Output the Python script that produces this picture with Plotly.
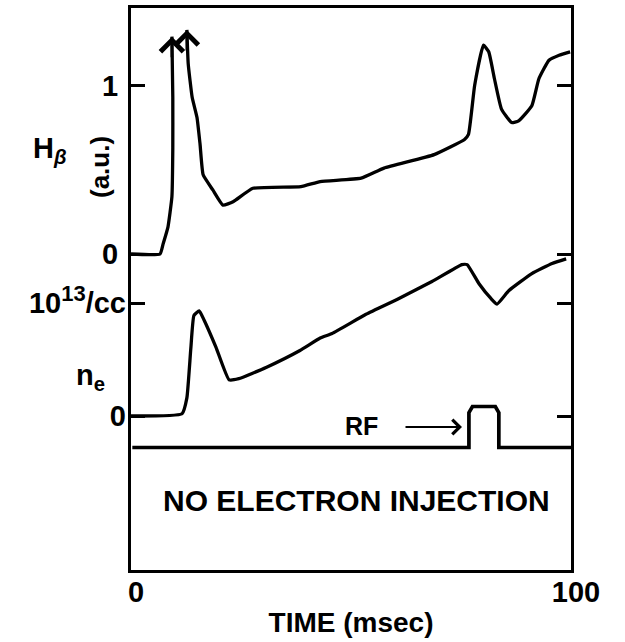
import plotly.graph_objects as go

# ---------------- data ----------------
# H-beta (a.u.) : rise to off-scale peak (arrow), gap, decay from second off-scale peak
hb_time = [0, 6.6, 7.3, 8.4, 9.3, 9.5, 9.5, 9.3, None, 12.7, 13.0, 13.9, 15.0, 15.7, 16.4,
           18.6, 20.9, 23.2, 27.7, 38.6, 43.0, 52.3, 57.5, 68.9, 75.8, 76.7, 78.1, 80.1,
           81.3, 82.6, 84.2, 86.5, 88.1, 91.1, 92.7, 95.0, 97.3, 99.8]
hb_val = [0, 0.0, 0.06, 0.16, 0.34, 0.63, 0.93, 1.29, None, 1.33, 1.13, 0.93, 0.81, 0.65, 0.47,
          0.38, 0.29, 0.31, 0.39, 0.40, 0.43, 0.45, 0.51, 0.59, 0.68, 0.71, 1.00, 1.24,
          1.20, 1.04, 0.86, 0.78, 0.79, 0.88, 1.04, 1.15, 1.18, 1.20]
hb_arrow_time = [9.3, 12.7]
hb_arrow_val = [1.29, 1.33]

# electron density n_e (10^13 /cc)
ne_time = [0, 11.6, 12.7, 13.6, 14.3, 15.5, 16.6, 19.3, 22.3, 24.5, 30.7, 38.4, 43.0, 45.7,
           53.4, 60.9, 68.4, 75.2, 76.4, 79.1, 81.8, 83.2, 85.9, 91.1, 95.7, 98.9]
ne_val = [0, 0.02, 0.16, 0.60, 0.89, 0.93, 0.85, 0.61, 0.32, 0.33, 0.43, 0.58, 0.69, 0.73,
          0.90, 1.04, 1.19, 1.34, 1.34, 1.17, 1.04, 0.99, 1.11, 1.26, 1.35, 1.39]

# RF pulse (on/off)
rf_time = [0.3, 76.8, 76.8, 77.6, 82.8, 83.6, 83.6, 100]
rf_val = [0, 0, 0.85, 1, 1, 0.85, 0, 0]

x_ticks = [0, 100]
x_ticklabels = ["0", "100"]
hb_ticks = [0, 1]
hb_ticklabels = ["0", "1"]
ne_ticks = [0, 1]
ne_ticklabels = ["0", "10<sup><span style='font-size:22px'>13</span></sup>/cc"]

# ---------------- layout helpers ----------------
W, H = 625, 642
L, R, T, B = 131, 571, 8, 570
FONT = "Liberation Sans, Arial, Helvetica, sans-serif"


def px(xp):
    return (xp - L) / (R - L)


def py(yp):
    return (B - yp) / (B - T)


def yrange(zero_px, unit_px):
    return [-(B - zero_px) / unit_px, (zero_px - T) / unit_px]


def bold(s):
    return "<b>" + s + "</b>"


LW = 3.3
fig = go.Figure()
fig.add_trace(go.Scatter(x=hb_time, y=hb_val, mode="lines", yaxis="y",
                         line=dict(color="black", width=LW, shape="spline", smoothing=0.4),
                         connectgaps=False, hoverinfo="skip", showlegend=False))
fig.add_trace(go.Scatter(x=ne_time, y=ne_val, mode="lines", yaxis="y2",
                         line=dict(color="black", width=LW, shape="spline", smoothing=0.4),
                         hoverinfo="skip", showlegend=False))
fig.add_trace(go.Scatter(x=rf_time, y=rf_val, mode="lines", yaxis="y3",
                         line=dict(color="black", width=LW + 0.4), hoverinfo="skip",
                         showlegend=False))

annotations = []
# off-scale arrowheads on the H-beta peaks
for t, v in zip(hb_arrow_time, hb_arrow_val):
    annotations.append(dict(x=t, y=v, xref="x", yref="y", ax=0, ay=22, text="",
                            showarrow=True, arrowhead=4, arrowsize=1.7,
                            arrowwidth=2.6, arrowcolor="black"))


def label(text, xp, yp, size, angle=0):
    return dict(x=px(xp), y=py(yp), xref="paper", yref="paper", text=text,
                xanchor="center", yanchor="middle", textangle=angle,
                showarrow=False, font=dict(family=FONT, size=size, color="black"))


annotations += [
    label(bold("H<sub><i>β</i></sub>"), 50, 150, 29),
    label(bold("(a.u.)"), 100, 167, 26, angle=-90),
    label(bold("n<sub>e</sub>"), 90, 377, 29),
    label(bold("NO ELECTRON INJECTION"), 356, 500, 30),
    label(bold("RF"), 361, 426, 25),
    dict(x=px(462), y=py(427), xref="paper", yref="paper", text="",
         ax=-58, ay=0, showarrow=True, arrowhead=4, arrowsize=1.3,
         arrowwidth=2.2, arrowcolor="black"),
]

tick_font = dict(family=FONT, size=29, color="black", weight="bold")
common_y = dict(showgrid=False, zeroline=False, ticks="inside", ticklen=14,
                tickwidth=2.5, tickcolor="black", tickfont=tick_font, automargin=False,
                ticklabelstandoff=4)

fig.update_layout(
    width=W, height=H,
    margin=dict(l=L, r=W - R, t=T, b=H - B),
    paper_bgcolor="white", plot_bgcolor="white",
    font=dict(family=FONT, color="black"),
    xaxis=dict(range=[0, 100], tickvals=x_ticks, ticktext=x_ticklabels,
               showgrid=False, zeroline=False, ticks="", tickfont=tick_font,
               ticklabelshift=5, ticklabelstandoff=-6, showline=True,
               linecolor="black", linewidth=3, mirror=True, automargin=False,
               title=dict(text=bold("TIME (msec)"),
                          font=dict(family=FONT, size=28, color="black"),
                          standoff=6)),
    yaxis=dict(range=yrange(254, 168.5), tickvals=hb_ticks, ticktext=hb_ticklabels,
               showline=True, linecolor="black", linewidth=3, mirror="ticks",
               **common_y),
    yaxis2=dict(range=yrange(416, 113), tickvals=ne_ticks, ticktext=ne_ticklabels,
                overlaying="y", side="left", showline=False, mirror="ticks",
                **common_y),
    yaxis3=dict(range=yrange(447.5, 41), overlaying="y", showticklabels=False,
                showgrid=False, zeroline=False, showline=False, ticks="",
                automargin=False),
    annotations=annotations,
)

fig.write_html("out.html")
